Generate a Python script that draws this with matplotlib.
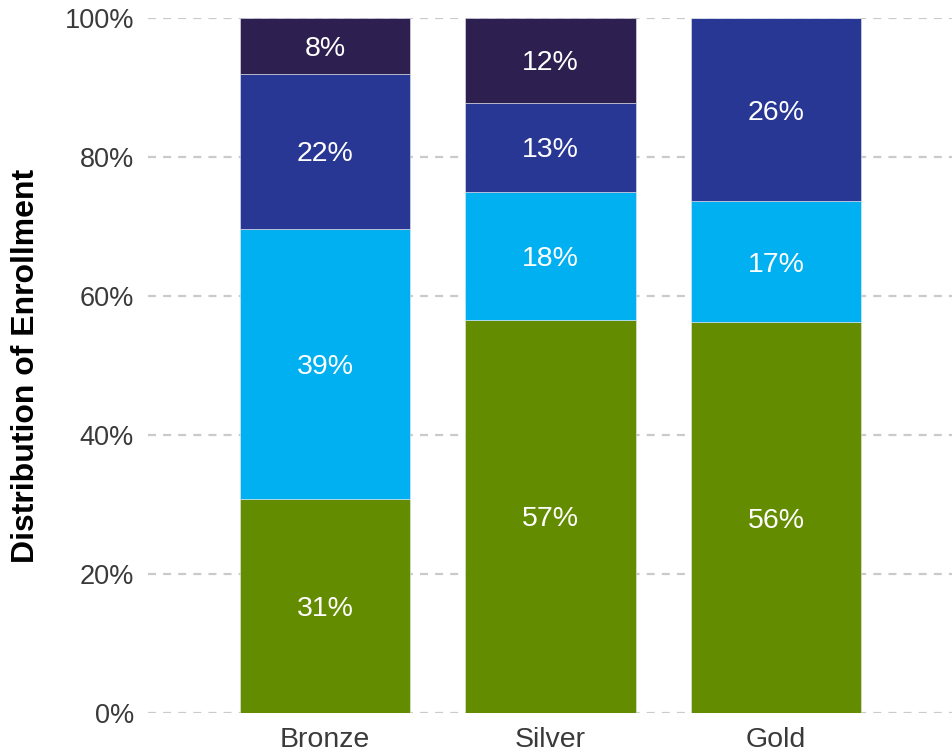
import matplotlib.pyplot as plt
import numpy as np
from matplotlib.ticker import PercentFormatter

plt.rcParams['font.family'] = ['Liberation Sans', 'DejaVu Sans']

tiers = ['Bronze', 'Silver', 'Gold']
# enrollment share per tier, bottom segment first
seg_green = [30.8, 56.6, 56.2]
seg_cyan = [38.8, 18.4, 17.4]
seg_blue = [22.4, 12.8, 26.4]
seg_navy = [8.0, 12.2, 0.0]

segments = [seg_green, seg_cyan, seg_blue, seg_navy]
colors = ['#638C00', '#00B0F0', '#283694', '#2D2050']

fig = plt.figure(figsize=(9.52, 7.53), dpi=100)
ax = fig.add_axes([148 / 952, 1 - 713 / 753, 1 - 148 / 952, (713 - 18) / 753])

x = np.arange(len(tiers))
bottom = np.zeros(len(tiers))
for vals, col in zip(segments, colors):
    vals = np.array(vals)
    ax.bar(x, vals, 0.755, bottom=bottom, color=col,
           edgecolor='#E8E8F0', linewidth=0.4, zorder=2)
    for xi, v, b in zip(x, vals, bottom):
        if v > 0:
            ax.text(xi, b + v / 2, f'{v:.0f}%', ha='center', va='center_baseline',
                    color='white', fontsize=20.5, zorder=3)
    bottom += vals

ax.set_ylim(0, 100)
ax.set_xlim(-0.785, 2.78)
ax.set_yticks(np.arange(0, 101, 20))
ax.yaxis.set_major_formatter(PercentFormatter(decimals=0))
ax.set_xticks(x)
ax.set_xticklabels(tiers)
ax.tick_params(axis='both', length=0, labelcolor='#3A3A3A')
ax.tick_params(axis='y', pad=10, labelsize=19.5)
ax.tick_params(axis='x', pad=10, labelsize=20.5)

ax.yaxis.grid(True, color='#CACACA', linewidth=1.6, dashes=(3.6, 3.2), zorder=0)
ax.set_axisbelow(True)
for s in ax.spines.values():
    s.set_visible(False)

fig.text(26 / 952, 1 - 366 / 753, 'Distribution of Enrollment', rotation=90,
         ha='center', va='center', fontsize=23, fontweight='bold', color='black')

fig.savefig('out.png', dpi=100)
